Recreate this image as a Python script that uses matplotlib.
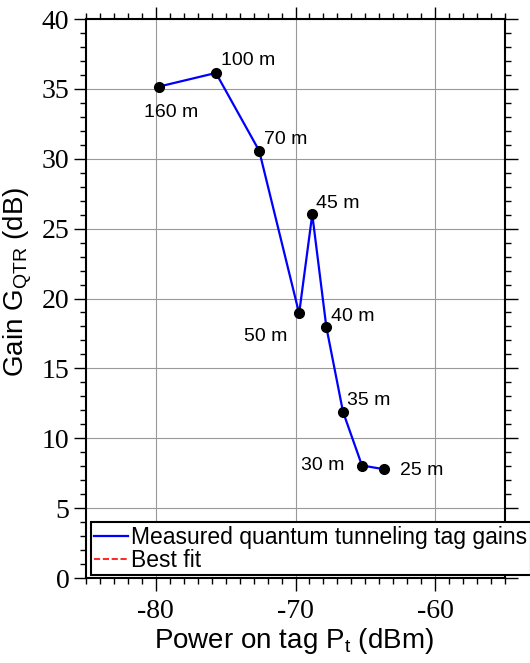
import matplotlib
matplotlib.use("Agg")
import matplotlib.pyplot as plt
from matplotlib.ticker import MultipleLocator

plt.rcParams["font.family"] = ["Liberation Sans", "DejaVu Sans"]
plt.rcParams["mathtext.fontset"] = "custom"
plt.rcParams["mathtext.rm"] = "Liberation Sans"
plt.rcParams["mathtext.it"] = "Liberation Sans"
plt.rcParams["axes.unicode_minus"] = False

# measured points
distances = ["160 m", "100 m", "70 m", "50 m", "45 m", "40 m", "35 m", "30 m", "25 m"]
power_dbm = [-79.8, -75.7, -72.6, -69.74, -68.8, -67.79, -66.6, -65.24, -63.69]
gain_db = [35.16, 36.14, 30.57, 18.93, 26.02, 17.95, 11.9, 8.05, 7.79]

# where each distance label sits relative to its point (pixels)
label_offsets = [(12, -26), (5, 12), (5, 11), (-12, -23), (4, 11), (5, 11), (4, 11), (-18, 0), (16, -1)]
label_ha = ["center", "left", "left", "right", "left", "left", "left", "right", "left"]

fig = plt.figure(figsize=(5.30, 6.63), dpi=100)
ax = fig.add_axes([0.1623, 0.1282, 0.7905, 0.8431])

ax.plot(power_dbm, gain_db, color="blue", lw=1.6, label="Measured quantum tunneling tag gains", zorder=3)
ax.plot(power_dbm, gain_db, "o", color="black", ms=7, zorder=4)
ax.plot([], [], "--", color="red", lw=1.2, label="Best fit")

for txt, x, y, off, ha in zip(distances, power_dbm, gain_db, label_offsets, label_ha):
    ax.annotate(txt, (x, y), xytext=off, textcoords="offset pixels",
                ha=ha, va="center", fontsize=14)

ax.set_xlim(-85, -55)
ax.set_ylim(0, 40)
ax.xaxis.set_major_locator(MultipleLocator(10))
ax.xaxis.set_minor_locator(MultipleLocator(1))
ax.yaxis.set_major_locator(MultipleLocator(5))
ax.yaxis.set_minor_locator(MultipleLocator(1))

ax.grid(True, which="major", color="#999999", lw=0.8)
ax.set_axisbelow(True)

ax.tick_params(which="both", direction="out", top=True, right=True,
               labelfontfamily="Liberation Serif", labelsize=20, width=1)
ax.tick_params(which="major", length=9)
ax.tick_params(which="minor", length=4.5)
ax.tick_params(axis="x", pad=6)
ax.tick_params(axis="y", pad=3)
for s in ax.spines.values():
    s.set_linewidth(1.5)

ax.set_xlabel("Power on tag P$_{\\mathrm{t}}$ (dBm)", fontsize=20)
ax.set_ylabel("Gain G$_{\\mathrm{QTR}}$ (dB)", fontsize=20)
ax.xaxis.set_label_coords(0.495, -0.085)
ax.yaxis.set_label_coords(-0.125, 0.53)

leg = ax.legend(loc="lower left", bbox_to_anchor=(0.012, 0.005), borderaxespad=0,
                fontsize=16.5, frameon=True, fancybox=False, framealpha=1,
                edgecolor="black", borderpad=0.15, labelspacing=0.0,
                handlelength=1.45, handletextpad=0.15)
leg.get_frame().set_linewidth(1.5)

fig.savefig("out.png", dpi=100)
